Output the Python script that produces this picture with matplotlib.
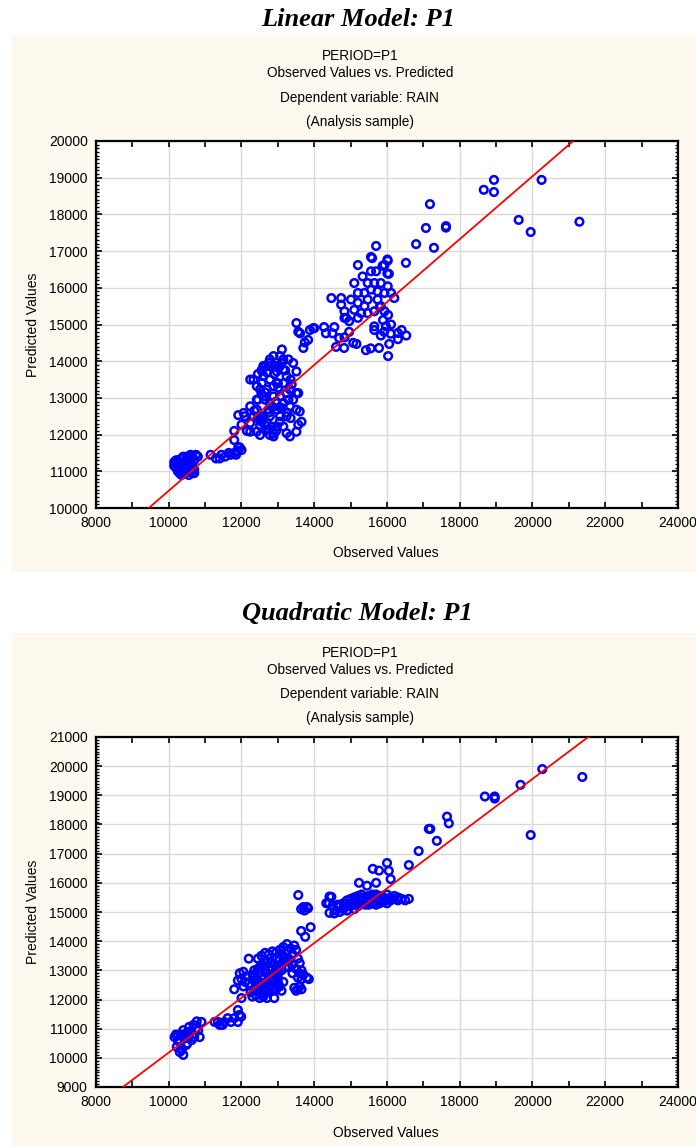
import matplotlib
matplotlib.use('Agg')
import matplotlib.pyplot as plt
from matplotlib.patches import Rectangle
from matplotlib.ticker import MultipleLocator

plt.rcParams['font.family'] = ['Liberation Sans', 'DejaVu Sans']

W, H = 696, 1146
header_lines = ['PERIOD=P1', 'Observed Values vs. Predicted',
                'Dependent variable: RAIN', '(Analysis sample)']
titles = ['Linear Model: P1', 'Quadratic Model: P1']
x_label = 'Observed Values'
y_label = 'Predicted Values'

# linear model points (observed, predicted)
lin_obs = [
    10150, 10150, 10200, 10200, 10200, 10250, 10250, 10250, 10300, 10300, 10300, 10350, 10350, 10350,
    10400, 10400, 10400, 10450, 10450, 10450, 10500, 10500, 10500, 10550, 10550, 10600, 10600, 10600,
    10650, 10650, 10650, 10700, 10700, 10750, 10800, 10550, 10700,
    11150, 11300, 11400, 11450, 11550, 11650, 11700, 11800, 11900, 11950, 11850, 11800, 11910, 12000,
    11800, 11910, 12090, 12000, 12150, 12240, 12420, 12510, 12780, 12880, 12510, 12240, 12060, 12240,
    12420, 12600, 12330, 12240, 12420, 12510, 12600, 12700, 12600, 12780, 12880, 13060, 13150, 13110,
    13290, 13420, 13510, 13060, 12970, 12780, 12970, 13150, 13330, 13510, 13560, 13420, 13330, 13510,
    13600, 13650, 13560, 13510, 13330, 13240, 13150, 12970, 12880, 12780, 12600, 12970, 13150, 12880,
    12780, 13060, 13240, 13240, 13150, 12700, 12880, 13010, 12420, 12330, 12510, 12740, 13060, 13240,
    13110, 13290, 13380, 12700, 12830, 12700, 12560, 12650, 12560, 12920, 12740,
    12450, 12550, 12650, 12750, 12850, 12950, 13050, 13150, 13250, 13350, 12350, 12450, 12550, 12650,
    12750, 12950, 13050, 12650, 12750, 12550, 12450, 13000, 13100, 13200, 13350, 12900, 13000,
    13510, 13560, 13610, 13700, 13740, 13830, 13880, 13970, 14000, 14270, 14320, 14500, 14550, 14600,
    14685, 14820, 15070, 15160, 15420, 15550, 15780, 16030, 16060, 15830, 15650, 15920, 16100, 16300,
    16400, 16530, 16300, 15890, 16030, 15800, 15650, 14470, 14740, 14740, 14830, 14880, 14960, 14830,
    15100, 15200, 15560, 15930, 16020, 16050, 16520, 15330, 15560, 15700, 15470, 15650, 15830, 16020,
    16110, 16200, 15930, 15740, 15560, 15380, 15200, 15010, 15200, 15380, 15100, 15290, 15470, 15650,
    14830, 14960, 15200, 15470, 15740, 15830, 15930, 16110, 15970,
    15700, 15590, 15880, 16010, 16010, 16800, 17070, 17180, 17290, 17620, 17620, 18660, 18940, 18940,
    19620, 19950, 20250, 21290]
lin_pred = [
    11250, 11150, 11300, 11100, 11200, 11000, 11300, 11150, 10950, 11250, 11100, 11350, 11050, 10900,
    11200, 11400, 11000, 11300, 11100, 10950, 11400, 11200, 11000, 11350, 11100, 11450, 11250, 11050,
    11400, 11150, 10950, 11300, 11050, 11450, 11400, 10900, 10950,
    11450, 11350, 11350, 11450, 11400, 11500, 11450, 11500, 11550, 11650, 11450, 11850, 11660, 11580,
    12100, 12530, 12500, 12270, 12100, 12080, 12080, 11990, 11990, 12030, 12250, 12320, 12590, 12770,
    12950, 13040, 13500, 13500, 13320, 13230, 13600, 13690, 13870, 14050, 14140, 14140, 14050, 14320,
    14050, 13950, 13720, 13870, 13720, 13500, 13400, 13400, 13230, 13130, 13130, 12950, 12770, 12680,
    12630, 12350, 12270, 12080, 11950, 12040, 12220, 12220, 11950, 12500, 12500, 12680, 12860, 13040,
    12860, 13040, 13130, 13590, 13770, 13230, 13320, 13280, 12680, 12500, 12500, 12680, 12500, 12500,
    12720, 12950, 13370, 12320, 12220, 12130, 12400, 12950, 13400, 13870, 13870,
    12950, 13100, 13150, 12600, 12750, 12900, 12750, 12850, 12600, 12450, 12650, 12450, 12350, 12250,
    12150, 12100, 12350, 13850, 13950, 13750, 13650, 13850, 13950, 13750, 13500, 13650, 13400,
    15040, 14800, 14760, 14360, 14510, 14580, 14850, 14900, 14900, 14930, 14760, 14760, 14930, 14390,
    14630, 14360, 14500, 14470, 14300, 14350, 14360, 14140, 14470, 14700, 14850, 14800, 14750, 14770,
    14850, 14700, 14600, 15120, 15260, 15480, 14950, 15720, 15720, 15540, 15360, 15180, 14800, 14650,
    16130, 16620, 16840, 16620, 16740, 16380, 16680, 16310, 16450, 16450, 16130, 16130, 16130, 16040,
    15860, 15720, 15860, 15900, 15950, 15860, 15860, 15680, 15590, 15500, 15400, 15310, 15310, 15360,
    15180, 15090, 15180, 15680, 15680, 15500, 15360, 15000, 14950,
    17140, 16810, 16600, 16770, 16390, 17190, 17630, 18280, 17090, 17680, 17640, 18670, 18940, 18610,
    17850, 17520, 18940, 17800]

# quadratic model points (observed, predicted)
quad_obs = [
    10160, 10250, 10330, 10510, 10680, 10770, 10900, 10850, 10630, 10480, 10360, 10400, 10220, 10300,
    10510, 10700, 10420, 10560, 10810, 10200, 10250, 10350, 10450, 10600, 10750, 10300, 10400, 10550,
    11260, 11400, 11530, 11620, 11710, 11800, 11900, 11940, 11900, 11990, 11350, 11480,
    11800, 11900, 11950, 12050, 12000, 12050, 12000, 12100, 12150, 12200, 12250, 12300, 12350, 12400,
    12450, 12500, 12550, 12600, 12650, 12700, 12750, 12800, 12850, 12900, 12950, 13000, 13050, 13100,
    13150, 12300, 12350, 12400, 12450, 12500, 12550, 12600, 12650, 12700, 12750, 12800, 12850, 12900,
    12950, 13000, 13050, 13100, 13150, 13200, 13250, 13300, 13350, 13400, 13450, 13500, 12450, 12550,
    12650, 12750, 12850, 12950, 13050, 13150, 13250, 12400, 12500, 12600, 12700, 12800, 12900, 13000,
    13100, 13200, 13300, 13400, 13500, 13600, 13650, 13700, 13800, 13850, 13550, 13650, 13450, 13500,
    13550, 13650, 13600, 12200, 12350, 13550, 13600, 13400, 12900, 12600,
    12700, 12800, 12900, 13000, 12600, 12500, 12400, 12750, 12850, 13000, 13100, 13200, 13300, 12550,
    12450, 12350, 12650,
    13560, 13640, 13700, 13730, 13800, 13830, 13640, 13750, 13900,
    14700, 14800, 14900, 15000, 15100, 15200, 15300, 15400, 15500, 15600, 15700, 15800, 15900, 16000,
    16100, 16200, 16300, 16400, 16500, 14800, 14900, 15000, 15100, 15200, 15300, 15400, 15500, 15600,
    15700, 15800, 15900, 16000, 15000, 15100, 15200, 15300, 15400, 15500, 15600, 15700, 14600, 14650,
    14500, 14400, 14550, 15050, 15250, 15450, 15650, 15850, 16050, 15150, 15350, 15550, 15750, 15950,
    16600, 14330, 14420, 14420,
    14700, 14900, 15100, 15300, 15500, 15700, 15900, 16100, 16200, 16300,
    15230, 15450, 15610, 15780, 15700, 16000, 16050, 16100, 16600, 14470,
    16870, 17150, 17190, 17370, 17650, 17700, 18690, 18960, 18960, 19670, 19950, 20270, 21370]
quad_pred = [
    10710, 10770, 10800, 10880, 11130, 11250, 11230, 10710, 10610, 10440, 10270, 10100, 10380, 10550,
    10490, 10710, 10660, 11060, 10940, 10800, 10600, 10300, 10800, 10900, 11000, 10200, 10950, 10700,
    11230, 11130, 11230, 11360, 11230, 11360, 11640, 11470, 11230, 11410, 11230, 11130,
    12350, 12650, 12900, 12950, 12700, 12450, 12050, 12600, 12800, 12550, 12250, 12100, 12300, 12150,
    12400, 12050, 12250, 12100, 12350, 12050, 12250, 12400, 12300, 12500, 12350, 12600, 12450, 12300,
    12600, 12850, 13000, 12700, 12900, 13100, 12800, 13000, 13250, 12900, 13100, 13300, 13050, 13200,
    13400, 13150, 13350, 13550, 13300, 13450, 13650, 13400, 13750, 13550, 13850, 13700, 13400, 13500,
    13600, 13550, 13650, 13600, 13700, 13800, 13900, 12500, 12600, 12700, 12600, 12750, 12850, 12900,
    13000, 13100, 13100, 13200, 13050, 12900, 13000, 12850, 12750, 12700, 12750, 12700, 12400, 12300,
    12350, 12350, 12450, 13400, 12650, 13400, 13250, 12900, 12050, 12200,
    13300, 13050, 12700, 12750, 12550, 12450, 12350, 12450, 12650, 13050, 13200, 13350, 13300, 13200,
    13050, 12800, 12950,
    15580, 15100, 15170, 15050, 15170, 15130, 14350, 14150, 14480,
    15000, 15100, 15200, 15300, 15350, 15400, 15450, 15500, 15550, 15500, 15450, 15400, 15350, 15300,
    15400, 15450, 15500, 15450, 15400, 15300, 15400, 15200, 15100, 15200, 15300, 15350, 15250, 15300,
    15250, 15300, 15500, 15600, 15450, 15500, 15550, 15400, 15250, 15400, 15600, 15600, 15050, 15250,
    15200, 15300, 14950, 15250, 15300, 15450, 15350, 15550, 15450, 15350, 15500, 15450, 15500, 15400,
    15450, 15300, 15530, 14970,
    15200, 15050, 15450, 15600, 15350, 15550, 15450, 15500, 15550, 15400,
    16000, 15900, 16480, 16420, 16000, 16680, 16410, 16130, 16610, 15520,
    17090, 17850, 17850, 17440, 18270, 18040, 18960, 18960, 18890, 19360, 17640, 19900, 19630]

# fitted lines, two end points each
lin_fit_obs = [9450, 21120]
lin_fit_pred = [10000, 20000]
quad_fit_obs = [8740, 21530]
quad_fit_pred = [9000, 21000]

fig = plt.figure(figsize=(W / 100, H / 100), dpi=100)
fig.patch.set_facecolor('white')


def fy(y):
    return 1 - y / H


def panel(title, title_y, bg_top, bg_bot, header_ys, ax_top, ax_bot, obs, pred, fx, fp, ylim, xlabel_y):
    fig.add_artist(Rectangle((11 / W, fy(bg_bot)), (W - 11) / W, (bg_bot - bg_top) / H,
                             transform=fig.transFigure, facecolor='#fdf9ee', edgecolor='none', zorder=0))
    fig.text(0.514, fy(title_y), title, ha='center', va='center', fontsize=19,
             family='Liberation Serif', weight='bold', style='italic')
    for txt, yy in zip(header_lines, header_ys):
        fig.text(0.517, fy(yy), txt, ha='center', va='center', fontsize=9.8)
    ax = fig.add_axes([96 / W, fy(ax_bot), 582 / W, (ax_bot - ax_top) / H])
    ax.set_facecolor('white')
    ax.grid(True, color='#d9d9d9', lw=1)
    ax.set_axisbelow(True)
    ax.scatter(obs, pred, s=30, facecolors='none', edgecolors='#0000ff', linewidths=1.8, zorder=3)
    ax.plot(fx, fp, color='#ff0000', lw=1.3, zorder=4)
    ax.set_xlim(8000, 24000)
    ax.set_ylim(*ylim)
    ax.xaxis.set_major_locator(MultipleLocator(2000))
    ax.xaxis.set_minor_locator(MultipleLocator(1000))
    ax.yaxis.set_major_locator(MultipleLocator(1000))
    ax.yaxis.set_minor_locator(MultipleLocator(100))
    ax.tick_params(which='both', direction='in', top=True, right=True, labelsize=10, pad=6)
    ax.tick_params(which='major', length=4, width=1.2)
    ax.tick_params(axis='x', which='minor', length=4, width=1.2)
    ax.tick_params(axis='y', which='minor', length=2, width=1)
    for sp in ax.spines.values():
        sp.set_linewidth(1.6)
    ax.set_ylabel(y_label, fontsize=10, labelpad=6)
    fig.text(0.555, fy(xlabel_y), x_label, ha='center', va='center', fontsize=10)
    return ax


panel(titles[0], 20, 35, 572, [56, 73, 98, 122], 141, 508, lin_obs, lin_pred,
      lin_fit_obs, lin_fit_pred, (10000, 20000), 553)
panel(titles[1], 613, 633, 1146, [653, 670, 694, 718], 737, 1087, quad_obs, quad_pred,
      quad_fit_obs, quad_fit_pred, (9000, 21000), 1133)

fig.savefig('out.png', dpi=100)
